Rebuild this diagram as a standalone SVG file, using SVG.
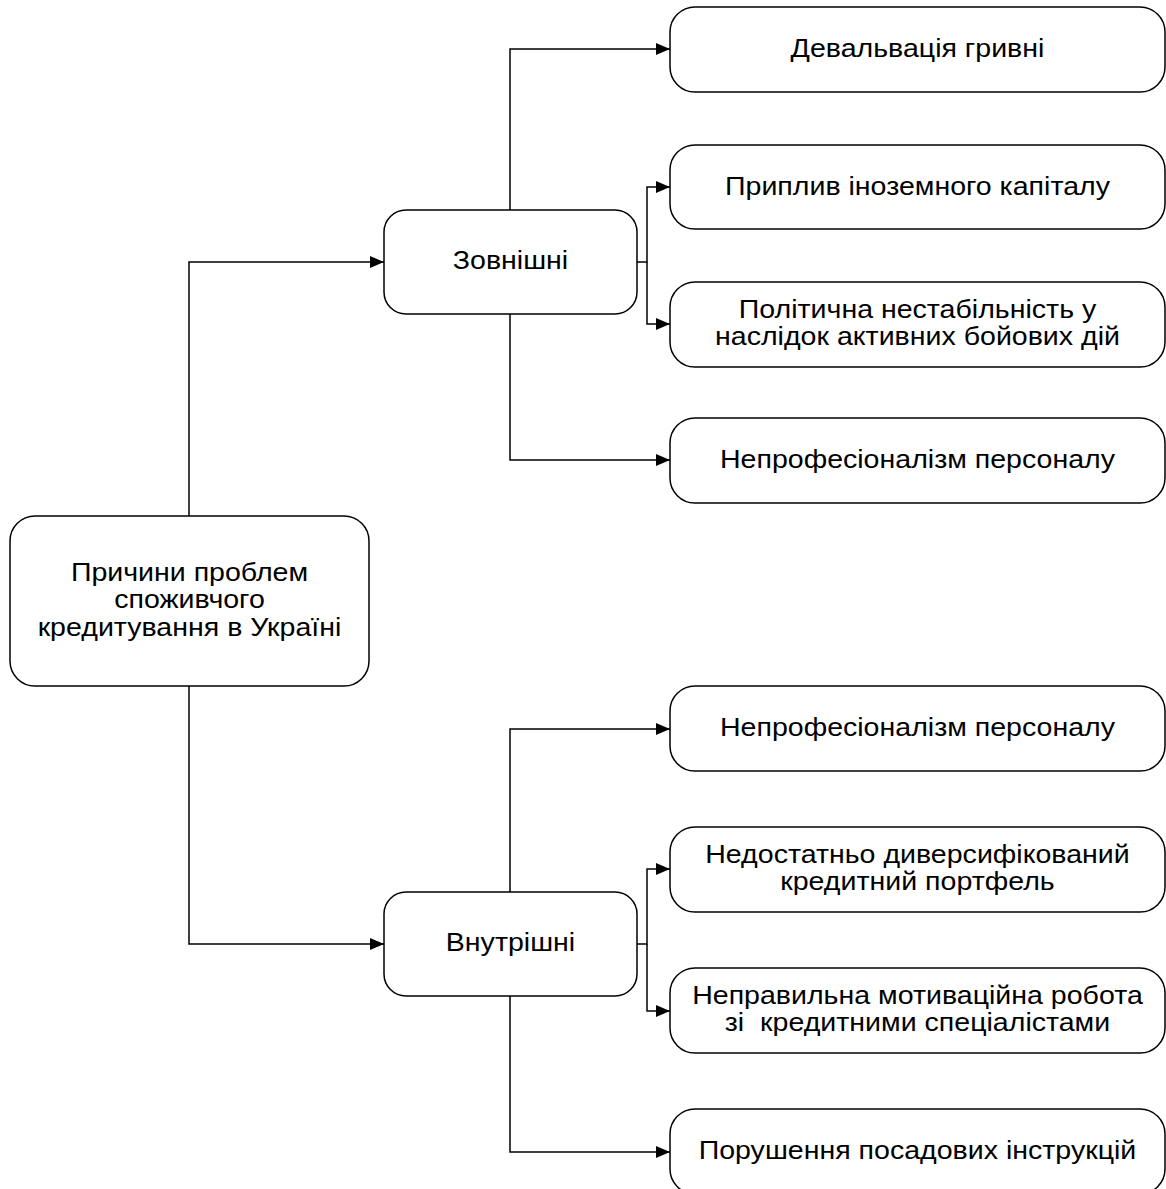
<svg xmlns="http://www.w3.org/2000/svg" width="1166" height="1189" viewBox="0 0 1166 1189">
<defs>
<marker id="arr" markerUnits="userSpaceOnUse" markerWidth="14" markerHeight="12" refX="14" refY="6" orient="auto">
<path d="M0,0 L14,6 L0,12 z" fill="#000"/>
</marker>
<style>
.node rect{fill:#fff;stroke:#000;stroke-width:1.5}
.node text{font-family:"Liberation Sans",Arial,sans-serif;font-size:26.2px;fill:#000;text-anchor:middle}
.conn path{fill:none;stroke:#000;stroke-width:1.5}
</style>
</defs>
<rect width="1166" height="1189" fill="#fff"/>
<g class="conn">
<path d="M189,516 V262 H384" marker-end="url(#arr)"/>
<path d="M189,686 V944 H384" marker-end="url(#arr)"/>
<path d="M510,210 V49 H670" marker-end="url(#arr)"/>
<path d="M637,262 H647 V187 H670" marker-end="url(#arr)"/>
<path d="M647,262 V324 H670" marker-end="url(#arr)"/>
<path d="M510,314 V460 H670" marker-end="url(#arr)"/>
<path d="M510,892 V729 H670" marker-end="url(#arr)"/>
<path d="M637,944 H647 V869 H670" marker-end="url(#arr)"/>
<path d="M647,944 V1011 H670" marker-end="url(#arr)"/>
<path d="M510,996 V1152 H670" marker-end="url(#arr)"/>
</g>
<g id="root" class="node">
<rect x="10" y="516" width="359" height="170" rx="25" ry="25"/>
<text transform="scale(1.09 1)" x="173.85" y="581">Причини проблем</text>
<text transform="scale(1.09 1)" x="173.85" y="608.5">споживчого</text>
<text transform="scale(1.09 1)" x="173.85" y="636">кредитування в Україні</text>
</g>
<g id="zovnishni" class="node">
<rect x="384" y="210" width="253" height="104" rx="22" ry="22"/>
<text transform="scale(1.09 1)" x="468.35" y="269.5">Зовнішні</text>
</g>
<g id="vnutrishni" class="node">
<rect x="384" y="892" width="253" height="104" rx="22" ry="22"/>
<text transform="scale(1.09 1)" x="468.35" y="951.5">Внутрішні</text>
</g>
<g id="n1" class="node">
<rect x="670" y="7" width="495" height="85" rx="25" ry="25"/>
<text transform="scale(1.09 1)" x="841.74" y="57.5">Девальвація гривні</text>
</g>
<g id="n2" class="node">
<rect x="670" y="145" width="495" height="84" rx="25" ry="25"/>
<text transform="scale(1.09 1)" x="841.74" y="195.5">Приплив іноземного капіталу</text>
</g>
<g id="n3" class="node">
<rect x="670" y="282" width="495" height="85" rx="25" ry="25"/>
<text transform="scale(1.09 1)" x="841.74" y="318">Політична нестабільність у</text>
<text transform="scale(1.09 1)" x="841.74" y="345.5">наслідок активних бойових дій</text>
</g>
<g id="n4" class="node">
<rect x="670" y="418" width="495" height="85" rx="25" ry="25"/>
<text transform="scale(1.09 1)" x="841.74" y="468.5">Непрофесіоналізм персоналу</text>
</g>
<g id="n5" class="node">
<rect x="670" y="686" width="495" height="85" rx="25" ry="25"/>
<text transform="scale(1.09 1)" x="841.74" y="736.5">Непрофесіоналізм персоналу</text>
</g>
<g id="n6" class="node">
<rect x="670" y="827" width="495" height="85" rx="25" ry="25"/>
<text transform="scale(1.09 1)" x="841.74" y="863">Недостатньо диверсифікований</text>
<text transform="scale(1.09 1)" x="841.74" y="890.5">кредитний портфель</text>
</g>
<g id="n7" class="node">
<rect x="670" y="968" width="495" height="85" rx="25" ry="25"/>
<text transform="scale(1.09 1)" x="841.74" y="1004" xml:space="preserve">Неправильна мотиваційна робота</text>
<text transform="scale(1.09 1)" x="841.74" y="1031.5" xml:space="preserve">зі  кредитними спеціалістами</text>
</g>
<g id="n8" class="node">
<rect x="670" y="1109" width="495" height="85" rx="25" ry="25"/>
<text transform="scale(1.09 1)" x="841.74" y="1159.5">Порушення посадових інструкцій</text>
</g>
</svg>
